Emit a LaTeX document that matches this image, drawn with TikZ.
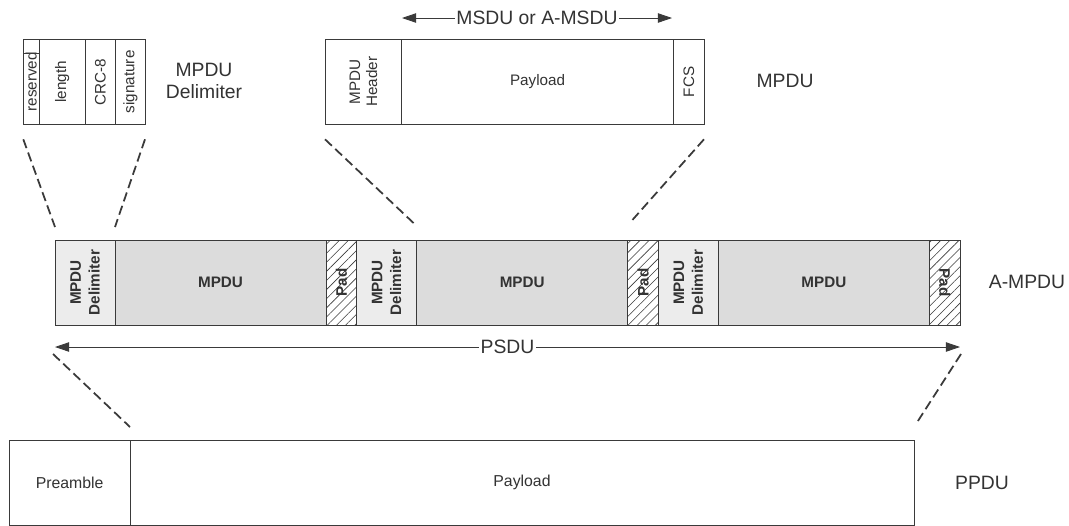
\documentclass[tikz,border=0pt]{standalone}
\usepackage{fontspec}
\setmainfont{Liberation Sans}
\usepackage{tikz}
\usetikzlibrary{backgrounds,positioning,patterns.meta,arrows.meta}
\definecolor{linegray}{HTML}{3A3A3A}
\definecolor{textgray}{HTML}{333333}
\definecolor{delimfill}{HTML}{ECECEC}
\definecolor{mpdufill}{HTML}{DCDCDC}
\newcommand{\pxu}{0.03cm}

\begin{document}
\begin{tikzpicture}[x=\pxu, y=-\pxu, show background rectangle,
		background rectangle/.style={fill=white}, inner frame sep=0pt,
		cell/.style={draw=linegray, line width=0.7pt, inner sep=0pt, outer sep=0pt, minimum height=85*\pxu, text=textgray},
		delim/.style={cell, fill=delimfill, minimum width=60*\pxu},
		mpdu/.style={cell, fill=mpdufill, minimum width=211*\pxu, font=\bfseries\fontsize{13}{15}\selectfont},
		padbox/.style={cell, pattern={Lines[angle=45,distance=5.5pt,line width=0.5pt]}, pattern color=linegray, minimum width=30.7*\pxu},
		vtext/.style={label={[rotate=90, align=center, text=textgray, font=\fontsize{13}{14.5}\selectfont]center:#1}},
		vbold/.style={label={[rotate=90, align=center, text=textgray, font=\bfseries\fontsize{13}{16}\selectfont]center:#1}},
		vboldr/.style={label={[rotate=-90, text=textgray, font=\bfseries\fontsize{13}{16}\selectfont]center:#1}},
		sidelabel/.style={text=textgray, align=center, font=\fontsize{16.5}{19}\selectfont},
		cutline/.style={draw=linegray, line width=1.5pt, dash pattern=on 8pt off 4pt},
		spanarrow/.style={draw=linegray, line width=0.7pt, {Triangle[length=12pt,width=8pt]}-{Triangle[length=12pt,width=8pt]}}
	]
		\useasboundingbox (0,0) rectangle (1069,525);

		% delimiter fields
		\node[cell, minimum width=16*\pxu, anchor=north west, vtext=reserved] (res) at (23.3,39.3) {};
		\node[cell, minimum width=45.7*\pxu, right=0pt of res, vtext=length] (len) {};
		\node[cell, minimum width=30.7*\pxu, right=0pt of len, vtext=CRC-8] (crc) {};
		\node[cell, minimum width=29.3*\pxu, right=0pt of crc, vtext=signature] (sig) {};
		\draw[linegray, line width=0.7pt] ([yshift=-14*\pxu]res.north west) -- ([yshift=-14*\pxu]res.north east);
		\node[sidelabel] (delimlbl) at (204,81) {MPDU\\Delimiter};

		% mpdu fields
		\node[cell, minimum width=76.7*\pxu, anchor=north west, vtext={MPDU\\Header}] (hdr) at (325,39.3) {};
		\node[cell, minimum width=271.8*\pxu, right=0pt of hdr, font=\fontsize{13}{15}\selectfont] (pay) {Payload};
		\node[cell, minimum width=30.5*\pxu, right=0pt of pay, vtext=FCS] (fcs) {};
		\node[sidelabel] (mpdulbl) at (785,81) {MPDU};

		\coordinate (msduL) at (402,18);
		\coordinate (msduR) at (672,18);
		\draw[spanarrow] (msduL) -- node[sidelabel, fill=white, inner sep=1pt] (msdulbl) {MSDU or A-MSDU} (msduR);

		% a-mpdu
		\node[delim, anchor=north west, vbold={MPDU\\Delimiter}] (d1) at (55,240) {};
		\node[mpdu, right=0pt of d1] (m1) {MPDU};
		\node[padbox, right=0pt of m1, vbold=Pad] (p1) {};
		\node[delim, right=0pt of p1, vbold={MPDU\\Delimiter}] (d2) {};
		\node[mpdu, right=0pt of d2] (m2) {MPDU};
		\node[padbox, right=0pt of m2, vbold=Pad] (p2) {};
		\node[delim, right=0pt of p2, vbold={MPDU\\Delimiter}] (d3) {};
		\node[mpdu, right=0pt of d3] (m3) {MPDU};
		\node[padbox, right=0pt of m3, vboldr=Pad] (p3) {};
		\node[sidelabel] (ampdulbl) at (1027,282) {A-MPDU};

		\coordinate (psduL) at (55,347);
		\coordinate (psduR) at (960,347);
		\draw[spanarrow] (psduL) -- node[sidelabel, fill=white, inner sep=1pt] (psdulbl) {PSDU} (psduR);

		% ppdu
		\node[cell, minimum width=120.7*\pxu, anchor=north west, font=\fontsize{13.5}{16}\selectfont] (pre) at (9.3,440) {Preamble};
		\node[cell, minimum width=784*\pxu, right=0pt of pre, font=\fontsize{13.5}{16}\selectfont] (ppay) {Payload};
		\node[sidelabel] (ppdulbl) at (982,483) {PPDU};

		% zoom lines
		\draw[cutline] ([yshift=-15*\pxu]res.south west) -- ([yshift=13*\pxu]d1.north west);
		\draw[cutline] ([yshift=-15*\pxu]sig.south east) -- ([yshift=13*\pxu]d1.north east);
		\draw[cutline] ([yshift=-15*\pxu]hdr.south west) -- ([yshift=14*\pxu]d2.north east);
		\draw[cutline] ([yshift=-15*\pxu]fcs.south east) -- ([xshift=2*\pxu, yshift=17*\pxu]p2.north west);
		\draw[cutline] ([xshift=-2*\pxu, yshift=-7*\pxu]psduL) -- ([yshift=13*\pxu]pre.north east);
		\draw[cutline] ([xshift=1*\pxu, yshift=-7*\pxu]psduR) -- ([xshift=2*\pxu, yshift=16*\pxu]ppay.north east);
\end{tikzpicture}
\end{document}
